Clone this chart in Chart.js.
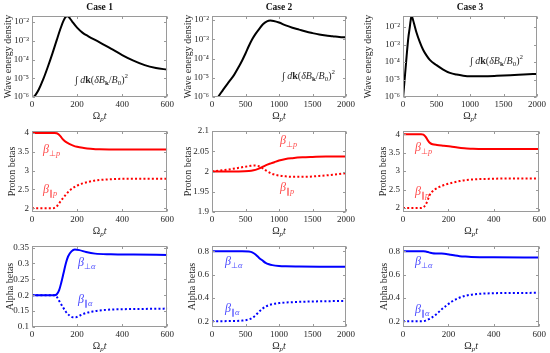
<!DOCTYPE html>
<html>
<head>
<meta charset="utf-8">
<script src="https://cdn.jsdelivr.net/npm/chart.js@4.4.1/dist/chart.umd.min.js"></script>
<style>
  html, body { margin:0; padding:0; background:#ffffff; }
  body { width:550px; height:353px; position:relative; overflow:hidden; }
  canvas { position:absolute; }
</style>
</head>
<body>
<script>
// ---------------- data ----------------
const caseTitles = ['Case 1', 'Case 2', 'Case 3'];
const xTicksShort = [0, 200, 400, 600];
const xTicksLong = [0, 500, 1000, 1500, 2000];
const waveTicks = [1e-6, 1e-5, 1e-4, 1e-3, 1e-2];
const protonTicksWide = [2, 2.5, 3, 3.5, 4];
const protonTicksNarrow = [1.9, 1.95, 2, 2.05, 2.1];
const alphaTicksCase1 = [0.1, 0.15, 0.2, 0.25, 0.3, 0.35];
const alphaTicksWide = [0.2, 0.4, 0.6, 0.8];

// Wave energy density
const waveX1 = [0, 15, 30, 50, 70, 90, 110, 125, 140, 150, 158, 168, 180, 200, 225, 250, 300, 350, 400, 450, 500, 550, 600];
const waveY1 = [7.94e-7, 1.26e-6, 2.51e-6, 8.91e-6, 3.98e-5, 2.0e-4, 1.12e-3, 3.98e-3, 1.2e-2, 1.91e-2, 2.04e-2, 1.58e-2, 1.0e-2, 5.01e-3, 2.63e-3, 1.74e-3, 8.32e-4, 3.8e-4, 1.74e-4, 8.71e-5, 5.01e-5, 3.55e-5, 2.88e-5];
const waveX2 = [0, 90, 170, 255, 330, 400, 450, 500, 550, 600, 650, 700, 760, 820, 870, 920, 1000, 1100, 1200, 1300, 1400, 1500, 1600, 1700, 1800, 1900, 2000];
const waveY2 = [3.98e-7, 1e-6, 2.51e-6, 6.31e-6, 1.41e-5, 3.72e-5, 7.94e-5, 1.82e-4, 4.47e-4, 1e-3, 1.91e-3, 3.31e-3, 6.03e-3, 8.51e-3, 9.33e-3, 8.91e-3, 7.41e-3, 5.25e-3, 3.98e-3, 3.16e-3, 2.51e-3, 2.09e-3, 1.78e-3, 1.58e-3, 1.45e-3, 1.32e-3, 1.26e-3];
const waveX3 = [0, 20, 40, 60, 80, 100, 115, 125, 135, 150, 175, 200, 250, 300, 350, 400, 500, 600, 700, 800, 900, 1000, 1200, 1400, 1600, 1800, 2000];
const waveY3 = [7.94e-7, 6.31e-6, 5.01e-5, 3.98e-4, 2.51e-3, 8.91e-3, 2.51e-2, 3.98e-2, 3.8e-2, 2.51e-2, 1.12e-2, 5.01e-3, 1.41e-3, 5.01e-4, 2.4e-4, 1.32e-4, 6.61e-5, 3.72e-5, 2.4e-5, 1.91e-5, 1.66e-5, 1.55e-5, 1.55e-5, 1.62e-5, 1.74e-5, 1.91e-5, 2.09e-5];

// Proton betas
const protonPerpX1 = [0, 100, 110, 120, 130, 140, 150, 165, 180, 200, 230, 260, 300, 400, 600];
const protonPerpY1 = [4.0, 4.0, 3.99, 3.95, 3.88, 3.81, 3.76, 3.71, 3.67, 3.63, 3.6, 3.58, 3.565, 3.56, 3.56];
const protonParX1 = [0, 90, 100, 110, 120, 135, 150, 165, 180, 200, 225, 250, 275, 300, 350, 400, 600];
const protonParY1 = [2.0, 2.0, 2.01, 2.05, 2.13, 2.25, 2.36, 2.46, 2.53, 2.6, 2.66, 2.7, 2.73, 2.75, 2.77, 2.78, 2.78];
const protonPerpX2 = [0, 400, 550, 620, 680, 740, 800, 860, 930, 1000, 1100, 1200, 1350, 1500, 1700, 2000];
const protonPerpY2 = [2.0, 2.0, 2.001, 2.003, 2.006, 2.01, 2.015, 2.019, 2.023, 2.027, 2.031, 2.033, 2.035, 2.036, 2.037, 2.037];
const protonParX2 = [0, 100, 250, 400, 500, 580, 630, 680, 730, 780, 830, 900, 1000, 1100, 1200, 1400, 1600, 1800, 2000];
const protonParY2 = [2.0, 2.002, 2.005, 2.009, 2.012, 2.014, 2.015, 2.014, 2.011, 2.005, 2.0, 1.994, 1.99, 1.988, 1.987, 1.987, 1.989, 1.992, 1.996];
const protonPerpX3 = [0, 80, 90, 100, 110, 120, 130, 150, 180, 210, 240, 270, 300, 350, 400, 600];
const protonPerpY3 = [4.0, 4.0, 3.99, 3.93, 3.83, 3.76, 3.73, 3.71, 3.69, 3.67, 3.64, 3.62, 3.61, 3.6, 3.6, 3.6];
const protonParX3 = [0, 80, 90, 100, 108, 116, 125, 140, 160, 190, 220, 250, 280, 320, 380, 450, 600];
const protonParY3 = [2.0, 2.0, 2.02, 2.09, 2.2, 2.33, 2.42, 2.5, 2.57, 2.64, 2.69, 2.73, 2.76, 2.78, 2.79, 2.8, 2.8];

// Alpha betas
const alphaPerpX1 = [0, 100, 110, 120, 130, 140, 150, 160, 175, 190, 210, 240, 280, 350, 450, 600];
const alphaPerpY1 = [0.2, 0.2, 0.203, 0.215, 0.24, 0.27, 0.3, 0.322, 0.338, 0.344, 0.342, 0.336, 0.331, 0.329, 0.328, 0.327];
const alphaParX1 = [0, 100, 110, 120, 135, 150, 165, 180, 195, 215, 240, 270, 300, 350, 400, 500, 600];
const alphaParY1 = [0.2, 0.2, 0.195, 0.183, 0.165, 0.148, 0.137, 0.131, 0.131, 0.137, 0.144, 0.149, 0.152, 0.155, 0.156, 0.157, 0.158];
const alphaPerpX2 = [0, 450, 550, 600, 650, 700, 750, 800, 850, 900, 1000, 1100, 1300, 1600, 2000];
const alphaPerpY2 = [0.8, 0.8, 0.797, 0.79, 0.772, 0.745, 0.722, 0.7, 0.688, 0.681, 0.674, 0.671, 0.669, 0.667, 0.666];
const alphaParX2 = [0, 300, 450, 550, 600, 650, 700, 750, 800, 850, 900, 1000, 1200, 1500, 2000];
const alphaParY2 = [0.2, 0.201, 0.205, 0.215, 0.228, 0.25, 0.28, 0.305, 0.325, 0.338, 0.346, 0.355, 0.363, 0.369, 0.374];
const alphaPerpX3 = [0, 90, 100, 110, 120, 130, 150, 170, 190, 210, 230, 250, 275, 300, 350, 400, 600];
const alphaPerpY3 = [0.8, 0.8, 0.798, 0.793, 0.787, 0.783, 0.781, 0.78, 0.777, 0.77, 0.763, 0.758, 0.754, 0.751, 0.749, 0.748, 0.746];
const alphaParX3 = [0, 80, 100, 115, 130, 150, 173, 195, 217, 245, 275, 310, 350, 400, 470, 600];
const alphaParY3 = [0.2, 0.2, 0.205, 0.218, 0.235, 0.265, 0.306, 0.34, 0.371, 0.398, 0.418, 0.43, 0.436, 0.44, 0.442, 0.443];

// ---------------- styling / layout ----------------
const FONT = "'Liberation Serif', 'Times New Roman', serif";
const TEXT = '#262626';
const BOX = '#9a9a9a';
const RED = '#ff0000', BLUE = '#0000ff';
const RED_LABEL = '#ff4a4a', BLUE_LABEL = '#4a4aff';
const cols = [{l: 32, r: 170}, {l: 212, r: 351}, {l: 403, r: 542}];
const rows = [{t: 16, b: 97}, {t: 131, b: 212}, {t: 246, b: 327}];
const yTitleX = [[8, 188, 368], [12, 188, 383], [10, 192, 384]];

const sup = {'-': '\u207B', '0': '\u2070', '1': '\u00B9', '2': '\u00B2', '3': '\u00B3', '4': '\u2074', '5': '\u2075', '6': '\u2076', '7': '\u2077', '8': '\u2078', '9': '\u2079'};
function logLabel(v) {
  const e = String(Math.round(Math.log10(v)));
  return '10' + e.split('').map(c => sup[c]).join('');
}

function drawRich(ctx, segs, x, y, size, align, color) {
  const fontFor = s => {
    const sz = (s.sub || s.sup) ? size * 0.7 : size;
    return (s.i ? 'italic ' : '') + (s.b ? 'bold ' : '') + sz + 'px ' + FONT;
  };
  let w = 0;
  segs.forEach(s => { ctx.font = fontFor(s); w += ctx.measureText(s.t).width; });
  let cx = align === 'center' ? x - w / 2 : x;
  ctx.fillStyle = color;
  ctx.textBaseline = 'middle';
  ctx.textAlign = 'left';
  segs.forEach(s => {
    ctx.font = fontFor(s);
    let dy = 0;
    if (s.sub) dy = size * 0.3;
    if (s.sup) dy = -size * 0.38;
    ctx.fillText(s.t, cx, y + dy);
    cx += ctx.measureText(s.t).width;
  });
}

const formula = [{t: '\u222B '}, {t: 'd', i: 1}, {t: 'k', b: 1}, {t: '('}, {t: '\u03B4B', i: 1}, {t: 'k', b: 1, sub: 1}, {t: '/'}, {t: 'B', i: 1}, {t: '0', sub: 1}, {t: ')'}, {t: '2', sup: 1}];
const xTitle = [{t: '\u03A9'}, {t: 'p', i: 1, sub: 1}, {t: 't', i: 1}];
const beta = (s1, s2) => [{t: '\u03B2', i: 1}, {t: s1, sub: 1}, {t: s2, i: 1, sub: 1}];

const panels = [
  {r: 0, c: 0, log: true, min: 1e-6, max: 0.021, yTicks: waveTicks, xMax: 600, xTicks: xTicksShort, yTitle: 'Wave energy density',
   series: [{x: waveX1, y: waveY1, color: '#000'}], notes: [{segs: formula, x: 75, y: 80, size: 10, color: TEXT}]},
  {r: 0, c: 1, log: true, min: 1e-6, max: 0.0162, yTicks: waveTicks, xMax: 2000, xTicks: xTicksLong, yTitle: 'Wave energy density',
   series: [{x: waveX2, y: waveY2, color: '#000'}], notes: [{segs: formula, x: 282, y: 76, size: 10, color: TEXT}]},
  {r: 0, c: 2, log: true, min: 1e-6, max: 0.0427, yTicks: waveTicks, xMax: 2000, xTicks: xTicksLong, yTitle: 'Wave energy density',
   series: [{x: waveX3, y: waveY3, color: '#000'}], notes: [{segs: formula, x: 470, y: 61, size: 10, color: TEXT}]},
  {r: 1, c: 0, log: false, min: 1.9, max: 4.05, yTicks: protonTicksWide, xMax: 600, xTicks: xTicksShort, yTitle: 'Proton betas',
   series: [{x: protonPerpX1, y: protonPerpY1, color: RED}, {x: protonParX1, y: protonParY1, color: RED, dash: true}],
   notes: [{segs: beta('\u22A5', 'p'), x: 43, y: 150, size: 12, color: RED_LABEL}, {segs: beta('\u2225', 'p'), x: 43, y: 190, size: 12, color: RED_LABEL}]},
  {r: 1, c: 1, log: false, min: 1.9, max: 2.1, yTicks: protonTicksNarrow, xMax: 2000, xTicks: xTicksLong, yTitle: 'Proton betas',
   series: [{x: protonPerpX2, y: protonPerpY2, color: RED}, {x: protonParX2, y: protonParY2, color: RED, dash: true}],
   notes: [{segs: beta('\u22A5', 'p'), x: 280, y: 141, size: 12, color: RED_LABEL}, {segs: beta('\u2225', 'p'), x: 280, y: 188, size: 12, color: RED_LABEL}]},
  {r: 1, c: 2, log: false, min: 1.89, max: 4.09, yTicks: protonTicksWide, xMax: 600, xTicks: xTicksShort, yTitle: 'Proton betas',
   series: [{x: protonPerpX3, y: protonPerpY3, color: RED}, {x: protonParX3, y: protonParY3, color: RED, dash: true}],
   notes: [{segs: beta('\u22A5', 'p'), x: 415, y: 148, size: 12, color: RED_LABEL}, {segs: beta('\u2225', 'p'), x: 415, y: 192, size: 12, color: RED_LABEL}]},
  {r: 2, c: 0, log: false, min: 0.1, max: 0.355, yTicks: alphaTicksCase1, xMax: 600, xTicks: xTicksShort, yTitle: 'Alpha betas',
   series: [{x: alphaPerpX1, y: alphaPerpY1, color: BLUE}, {x: alphaParX1, y: alphaParY1, color: BLUE, dash: true}],
   notes: [{segs: beta('\u22A5', '\u03B1'), x: 78, y: 263, size: 12, color: BLUE_LABEL}, {segs: beta('\u2225', '\u03B1'), x: 78, y: 300, size: 12, color: BLUE_LABEL}]},
  {r: 2, c: 1, log: false, min: 0.15, max: 0.845, yTicks: alphaTicksWide, xMax: 2000, xTicks: xTicksLong, yTitle: 'Alpha betas',
   series: [{x: alphaPerpX2, y: alphaPerpY2, color: BLUE}, {x: alphaParX2, y: alphaParY2, color: BLUE, dash: true}],
   notes: [{segs: beta('\u22A5', '\u03B1'), x: 225, y: 262, size: 12, color: BLUE_LABEL}, {segs: beta('\u2225', '\u03B1'), x: 225, y: 309, size: 12, color: BLUE_LABEL}]},
  {r: 2, c: 2, log: false, min: 0.15, max: 0.845, yTicks: alphaTicksWide, xMax: 600, xTicks: xTicksShort, yTitle: 'Alpha betas',
   series: [{x: alphaPerpX3, y: alphaPerpY3, color: BLUE}, {x: alphaParX3, y: alphaParY3, color: BLUE, dash: true}],
   notes: [{segs: beta('\u22A5', '\u03B1'), x: 415, y: 262, size: 12, color: BLUE_LABEL}, {segs: beta('\u2225', '\u03B1'), x: 415, y: 310, size: 12, color: BLUE_LABEL}]}
];

const TOPPAD = 16, RIGHTPAD = 6, XAXISH = 26, TICKFONT = 9;

function makeChart(p) {
  const box = {l: cols[p.c].l, r: cols[p.c].r, t: rows[p.r].t, b: rows[p.r].b};
  const left = yTitleX[p.r][p.c] - 7;
  const top = box.t - TOPPAD;
  const w = box.r + RIGHTPAD - left;
  const h = box.b + XAXISH - top;
  const cv = document.createElement('canvas');
  cv.width = w; cv.height = h;
  cv.style.left = left + 'px'; cv.style.top = top + 'px';
  cv.style.width = w + 'px'; cv.style.height = h + 'px';
  document.body.appendChild(cv);

  const frame = {
    id: 'frame' + p.r + p.c,
    afterDraw(chart) {
      const ctx = chart.ctx;
      const a = chart.chartArea;
      const xs = chart.scales.x, ys = chart.scales.y;
      ctx.save();
      ctx.strokeStyle = BOX;
      ctx.lineWidth = 1;
      const L = Math.round(a.left) + 0.5, R = Math.round(a.right) - 0.5;
      const T = Math.round(a.top) + 0.5, B = Math.round(a.bottom) - 0.5;
      ctx.strokeRect(L, T, R - L, B - T);
      ctx.beginPath();
      p.xTicks.forEach(v => {
        const px = Math.round(xs.getPixelForValue(v)) + 0.5;
        ctx.moveTo(px, B); ctx.lineTo(px, B - 2.5);
        ctx.moveTo(px, T); ctx.lineTo(px, T + 2.5);
      });
      p.yTicks.forEach(v => {
        const py = Math.round(ys.getPixelForValue(v)) + 0.5;
        ctx.moveTo(L, py); ctx.lineTo(L + 2.5, py);
        ctx.moveTo(R, py); ctx.lineTo(R - 2.5, py);
      });
      ctx.stroke();
      // titles
      const cx = (a.left + a.right) / 2;
      if (p.r === 0) {
        ctx.fillStyle = '#111';
        ctx.font = 'bold 9.5px ' + FONT;
        ctx.textAlign = 'center'; ctx.textBaseline = 'middle';
        ctx.fillText(caseTitles[p.c], cx, 8 - top);
      }
      drawRich(ctx, xTitle, cx, a.bottom + 19.5, 10, 'center', TEXT);
      p.notes.forEach(n => drawRich(ctx, n.segs, n.x - left, n.y - top, n.size, 'left', n.color));
      ctx.restore();
    }
  };

  new Chart(cv, {
    type: 'line',
    data: {
      datasets: p.series.map(s => ({
        data: s.x.map((x, i) => ({x: x, y: s.y[i]})),
        borderColor: s.color,
        borderWidth: 2,
        borderDash: s.dash ? [2, 2.2] : [],
        borderCapStyle: 'butt',
        pointRadius: 0,
        cubicInterpolationMode: 'monotone',
        fill: false
      }))
    },
    options: {
      responsive: false,
      animation: false,
      devicePixelRatio: 1,
      layout: {padding: {left: 0, top: TOPPAD, right: RIGHTPAD, bottom: 0}},
      plugins: {legend: {display: false}, tooltip: {enabled: false}},
      scales: {
        x: {
          type: 'linear', min: 0, max: p.xMax,
          afterBuildTicks: s => { s.ticks = p.xTicks.map(v => ({value: v})); },
          afterFit: s => { s.height = XAXISH; },
          grid: {display: false, drawTicks: false},
          border: {display: false},
          ticks: {padding: 2, autoSkip: false, maxRotation: 0, color: TEXT,
                  font: {family: FONT, size: TICKFONT}, callback: v => String(v)}
        },
        y: {
          type: p.log ? 'logarithmic' : 'linear', min: p.min, max: p.max,
          afterBuildTicks: s => { s.ticks = p.yTicks.map(v => ({value: v})); },
          afterFit: s => { s.width = box.l - left; },
          grid: {display: false, drawTicks: false},
          border: {display: false},
          ticks: {padding: 3, autoSkip: false, color: TEXT,
                  font: {family: FONT, size: TICKFONT},
                  callback: v => p.log ? logLabel(v) : String(v)},
          title: {display: true, text: p.yTitle, color: TEXT,
                  font: {family: FONT, size: 10}, padding: {top: 1, bottom: 0}}
        }
      }
    },
    plugins: [frame]
  });
}

panels.forEach(makeChart);
</script>
</body>
</html>
